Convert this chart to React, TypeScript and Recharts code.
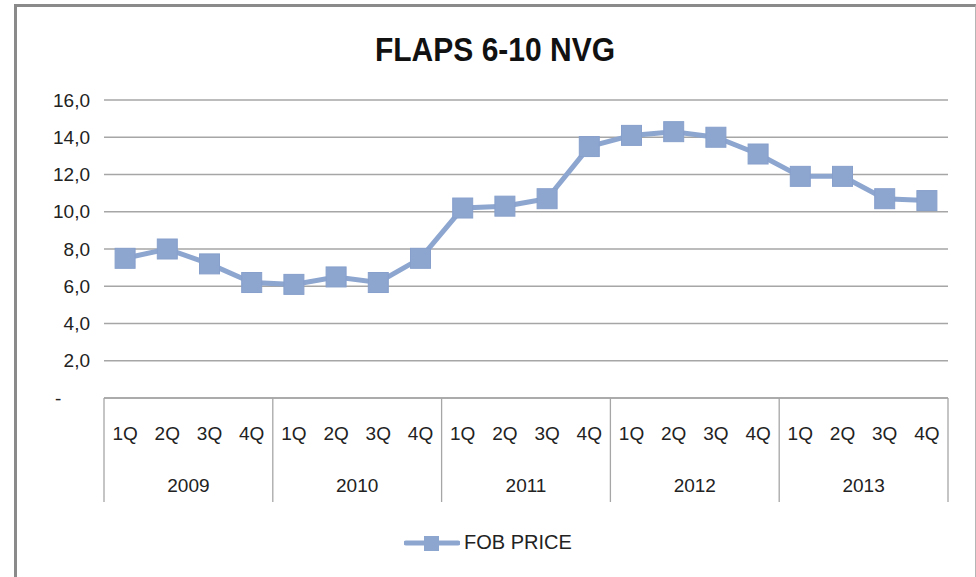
import React from 'react'
import { LineChart, Line, XAxis, YAxis, CartesianGrid, Legend } from 'recharts'

const years = ['2009', '2010', '2011', '2012', '2013']
const quarters = ['1Q', '2Q', '3Q', '4Q']
const fobPrice = [7.5, 8.0, 7.2, 6.2, 6.1, 6.5, 6.2, 7.5, 10.2, 10.3, 10.7, 13.5, 14.1, 14.3, 14.0, 13.1, 11.9, 11.9, 10.7, 10.6]
const yTicks = [0, 2, 4, 6, 8, 10, 12, 14, 16]

const data = fobPrice.map((v, i) => ({
  key: years[Math.floor(i / 4)] + '-' + quarters[i % 4],
  year: years[Math.floor(i / 4)],
  q: quarters[i % 4],
  price: v,
}))

const W = 976
const H = 577
// bottom margin leaves room for the legend, which recharts also reserves
const MARGIN = { top: 100, right: 28, bottom: 46, left: 44 }
const Y_AXIS_W = 60
const PLOT_W = W - MARGIN.left - MARGIN.right - Y_AXIS_W
const BAND = PLOT_W / data.length

const LINE_COLOR = '#8DA6D0'
const GRID = '#a6a6a6'
const FONT = '"Liberation Sans", Arial, sans-serif'

// quarter label + year label + group separators
const XTick = (props: any) => {
  const { x, y, index } = props
  const row = data[index]
  const first = index % 4 === 0
  const last = index === data.length - 1
  return (
    <g>
      <text x={x} y={y + 42} textAnchor="middle" fontSize={19} fill="#222" fontFamily={FONT}>
        {row.q}
      </text>
      {first && (
        <>
          <line x1={x - BAND / 2} x2={x - BAND / 2} y1={y} y2={y + 104} stroke={GRID} strokeWidth={1.3} />
          <text x={x + BAND * 1.5} y={y + 94} textAnchor="middle" fontSize={19} fill="#222" fontFamily={FONT}>
            {row.year}
          </text>
        </>
      )}
      {last && <line x1={x + BAND / 2} x2={x + BAND / 2} y1={y} y2={y + 104} stroke={GRID} strokeWidth={1.3} />}
    </g>
  )
}

const YTick = (props: any) => {
  const { x, y, payload } = props
  if (payload.value === 0) {
    return (
      <text x={x - 35} y={y} dy="0.35em" textAnchor="start" fontSize={19} fill="#222" fontFamily={FONT}>
        -
      </text>
    )
  }
  return (
    <text x={x} y={y} dy="0.35em" textAnchor="end" fontSize={19} fill="#222" fontFamily={FONT}>
      {payload.value.toFixed(1).replace('.', ',')}
    </text>
  )
}

const SquareDot = (props: any) => {
  const { cx, cy, index } = props
  if (cx == null || cy == null) return null
  return <rect key={index} x={cx - 10} y={cy - 10} width={20} height={20} fill={LINE_COLOR} stroke="#87A0CB" strokeWidth={1} />
}

const renderLegend = () => (
  <div style={{ display: 'flex', justifyContent: 'center', alignItems: 'center', fontFamily: FONT, fontSize: 20, color: '#222' }}>
    <svg width={56} height={20} style={{ marginRight: 4 }}>
      <line x1={2} x2={54} y1={10} y2={10} stroke={LINE_COLOR} strokeWidth={5} strokeLinecap="round" />
      <rect x={20} y={3} width={15} height={15} fill={LINE_COLOR} />
    </svg>
    <span>FOB PRICE</span>
  </div>
)

export default function App() {
  return (
    <div style={{ position: 'fixed', left: 0, top: 0, width: W, height: H, background: '#fff', overflow: 'hidden' }}>
      <div
        style={{
          position: 'absolute',
          left: 14,
          top: 4,
          width: 958,
          height: 620,
          borderTop: '3px solid #8a8a8a',
          borderLeft: '3px solid #8a8a8a',
          borderRight: '1px solid #b5b5b5',
        }}
      />
      <div
        style={{
          position: 'absolute',
          left: 0,
          width: 990,
          top: 32,
          textAlign: 'center',
          fontFamily: FONT,
          fontWeight: 'bold',
          fontSize: 30,
          lineHeight: '36px',
          color: '#111',
          transform: 'scaleY(1.08)',
        }}
      >
        FLAPS 6-10 NVG
      </div>
      <div style={{ position: 'absolute', left: 0, top: 0 }}>
        <LineChart width={W} height={H} data={data} margin={MARGIN}>
          <CartesianGrid vertical={false} stroke={GRID} strokeWidth={1.3} />
          <XAxis
            dataKey="key"
            scale="band"
            interval={0}
            height={110}
            tickLine={false}
            tickSize={0}
            tickMargin={0}
            axisLine={{ stroke: GRID, strokeWidth: 1.3 }}
            tick={<XTick />}
          />
          <YAxis
            domain={[0, 16]}
            ticks={yTicks}
            width={Y_AXIS_W}
            axisLine={false}
            tickLine={false}
            tickSize={0}
            tickMargin={14}
            tick={<YTick />}
          />
          <Legend content={renderLegend} wrapperStyle={{ top: 531, left: 0, width: W }} />
          <Line
            dataKey="price"
            name="FOB PRICE"
            stroke={LINE_COLOR}
            strokeWidth={5}
            dot={<SquareDot />}
            activeDot={false}
            isAnimationActive={false}
          />
        </LineChart>
      </div>
    </div>
  )
}
